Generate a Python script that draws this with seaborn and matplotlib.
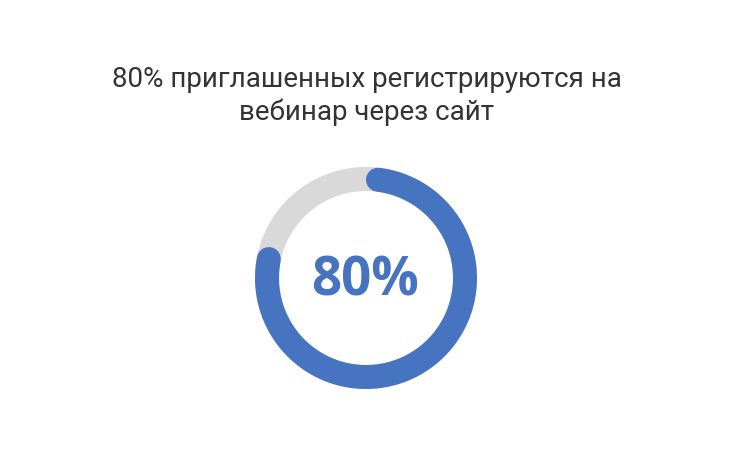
import numpy as np
import pandas as pd
import matplotlib
matplotlib.use('Agg')
import matplotlib.pyplot as plt
import seaborn as sns

# Chart data
title_lines = ["80% приглашенных регистрируются на", "вебинар через сайт"]
percent_value = 80
track_value = 100

BLUE = "#4674c1"
GRAY = "#d9d9d9"
TEXT = "#333333"

sns.set_theme(style="white")
plt.rcParams['font.family'] = ['Roboto', 'DejaVu Sans']

W, H = 730, 460
fig = plt.figure(figsize=(W / 100, H / 100), dpi=100)
fig.patch.set_facecolor("white")
ax = fig.add_axes([0, 0, 1, 1])
ax.set_xlim(0, W)
ax.set_ylim(H, 0)
ax.set_aspect("equal")
ax.axis("off")

cx, cy = 366, 279      # ring centre (pixels)
r_mid = 99             # middle radius of the ring
ring_px = 24           # ring thickness in pixels
ring_lw = ring_px * 72 / 100


def arc_frame(value, trim_caps):
    """Points along a clockwise arc starting at 12 o'clock for value in %."""
    sweep = 360 * value / 100
    cap = np.degrees((ring_px / 2) / r_mid) if trim_caps else 0
    theta = np.radians(np.linspace(90 - cap, 90 - sweep + cap, 400))
    return pd.DataFrame({
        "x": cx + r_mid * np.cos(theta),
        "y": cy - r_mid * np.sin(theta),
    })


# background track
sns.lineplot(data=arc_frame(track_value, False), x="x", y="y", sort=False,
             estimator=None, color=GRAY, linewidth=ring_lw, ax=ax)
# value arc with rounded caps
sns.lineplot(data=arc_frame(percent_value, True), x="x", y="y", sort=False,
             estimator=None, color=BLUE, linewidth=ring_lw,
             solid_capstyle="round", ax=ax)

ax.text(cx - 1, cy + 3, f"{percent_value}%", ha="center", va="center",
        fontsize=38, fontweight="bold", color=BLUE,
        family=['Open Sans', 'DejaVu Sans'])

# title, two centred lines
for i, line in enumerate(title_lines):
    ax.text(W / 2 + 2, 87 + 33 * i, line, ha="center", va="baseline",
            fontsize=20, color=TEXT)

ax.set_xlabel("")
ax.set_ylabel("")
fig.savefig("out.png", dpi=100, facecolor="white")
